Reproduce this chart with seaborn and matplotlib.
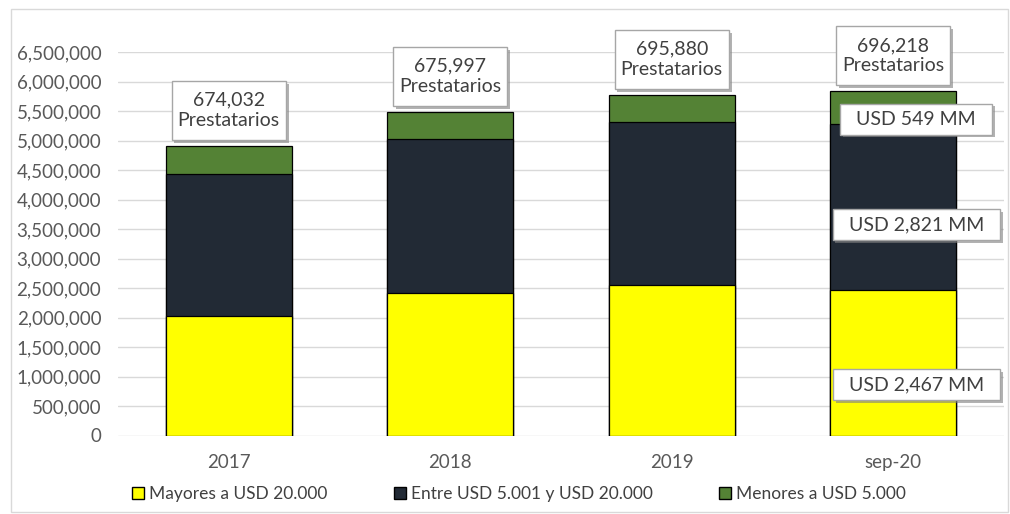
import matplotlib
matplotlib.use("Agg")
import matplotlib.pyplot as plt
import matplotlib.patheffects as pe
from matplotlib.patches import Patch, Rectangle
from matplotlib.path import Path
from matplotlib.ticker import MultipleLocator, FuncFormatter
import numpy as np
import pandas as pd
import seaborn as sns

# Cartera por rango de monto (miles de USD)
periodos = ["2017", "2018", "2019", "sep-20"]
mayores_20k = [2025000, 2415000, 2551000, 2467000]
entre_5k_20k = [2407000, 2610000, 2763000, 2821000]
menores_5k = [475000, 458000, 457000, 549000]
prestatarios = [674032, 675997, 695880, 696218]
series_names = ["Mayores a USD 20.000", "Entre USD 5.001 y USD 20.000", "Menores a USD 5.000"]
montos_sep20 = ["USD 549 MM", "USD 2,821 MM", "USD 2,467 MM"]

colors = ["#FFFF00", "#222A35", "#548235"]

sns.set_theme(style="white")
plt.rcParams["font.family"] = ["Lato", "DejaVu Sans"]

df = pd.DataFrame({
    "periodo": periodos,
    "s1": mayores_20k,
    "s2": entre_5k_20k,
    "s3": menores_5k,
})
df["c1"] = df["s1"]
df["c2"] = df["s1"] + df["s2"]
df["c3"] = df["c2"] + df["s3"]

W, H = 1010, 514
fig = plt.figure(figsize=(W / 100, H / 100), dpi=100)
ax = fig.add_axes([118 / W, (H - 435.5) / H, (1004 - 118) / W, (435.5 - 52) / H])

# Stacked bars: cumulative totals drawn from the tallest layer down
for col, color in zip(["c3", "c2", "c1"], colors[::-1]):
    sns.barplot(data=df, x="periodo", y=col, color=color, width=0.57,
                edgecolor="black", linewidth=0.9, saturation=1, ax=ax, zorder=3)

ax.set_ylim(0, 6500000)
ax.set_xlim(-0.5, 3.5)
ax.yaxis.set_major_locator(MultipleLocator(500000))
ax.yaxis.set_major_formatter(FuncFormatter(lambda v, p: f"{v:,.0f}"))
ax.grid(axis="y", color="#D9D9D9", linewidth=1, zorder=0)
ax.set_axisbelow(True)
for s in ax.spines.values():
    s.set_visible(False)
ax.set_xlabel("")
ax.set_ylabel("")
ax.tick_params(axis="both", length=0, labelsize=13.5, labelcolor="#595959")
ax.tick_params(axis="y", pad=12)
ax.tick_params(axis="x", pad=13)


def padded_box(hpad, vpad):
    def style(x0, y0, width, height, mutation_size):
        x0 -= hpad
        x1 = x0 + width + 2 * hpad
        y0 -= vpad
        y1 = y0 + height + 2 * vpad
        return Path([(x0, y0), (x1, y0), (x1, y1), (x0, y1), (x0, y0)], closed=True)
    return style


shadow = [pe.withSimplePatchShadow(offset=(2, -2), shadow_rgbFace="#7F7F7F", alpha=0.6)]

# Borrower count labels above each bar
for i, (tot, n) in enumerate(zip(df["c3"], prestatarios)):
    t = ax.annotate(f"{n:,}\nPrestatarios", xy=(i, tot), xytext=(0, 12),
                    textcoords="offset points", ha="center", va="bottom",
                    fontsize=14, color="#404040", linespacing=1.25,
                    annotation_clip=False, zorder=5,
                    bbox=dict(boxstyle=padded_box(6, 10.5), fc="white", ec="#A6A6A6", lw=1))
    t.get_bbox_patch().set_path_effects(shadow)

# Amount labels on the last bar
usd_label_y = [5364000, 3568000, 856000]
last = len(periodos) - 1
for txt, yv in zip(montos_sep20, usd_label_y):
    t = ax.text(last + 0.104, yv, txt, ha="center", va="center", fontsize=14,
                color="#404040", zorder=6,
                bbox=dict(boxstyle=padded_box(16, 7), fc="white", ec="#A6A6A6", lw=1))
    t.get_bbox_patch().set_path_effects(shadow)

handles = [Patch(facecolor=c, edgecolor="black", linewidth=1) for c in colors]
fig.legend(handles, series_names, loc="center", bbox_to_anchor=(519 / W, 1 - 494 / H),
           ncol=3, frameon=False, fontsize=12.5, handlelength=0.7, handleheight=0.7,
           handletextpad=0.3, columnspacing=3.8, labelcolor="#404040")

# Chart area border
fig.patches.append(Rectangle((11 / W, 2 / H), (1008 - 11) / W, (505 - 2) / H,
                             transform=fig.transFigure, fill=False,
                             edgecolor="#D9D9D9", linewidth=1))

fig.savefig("out.png", dpi=100)
